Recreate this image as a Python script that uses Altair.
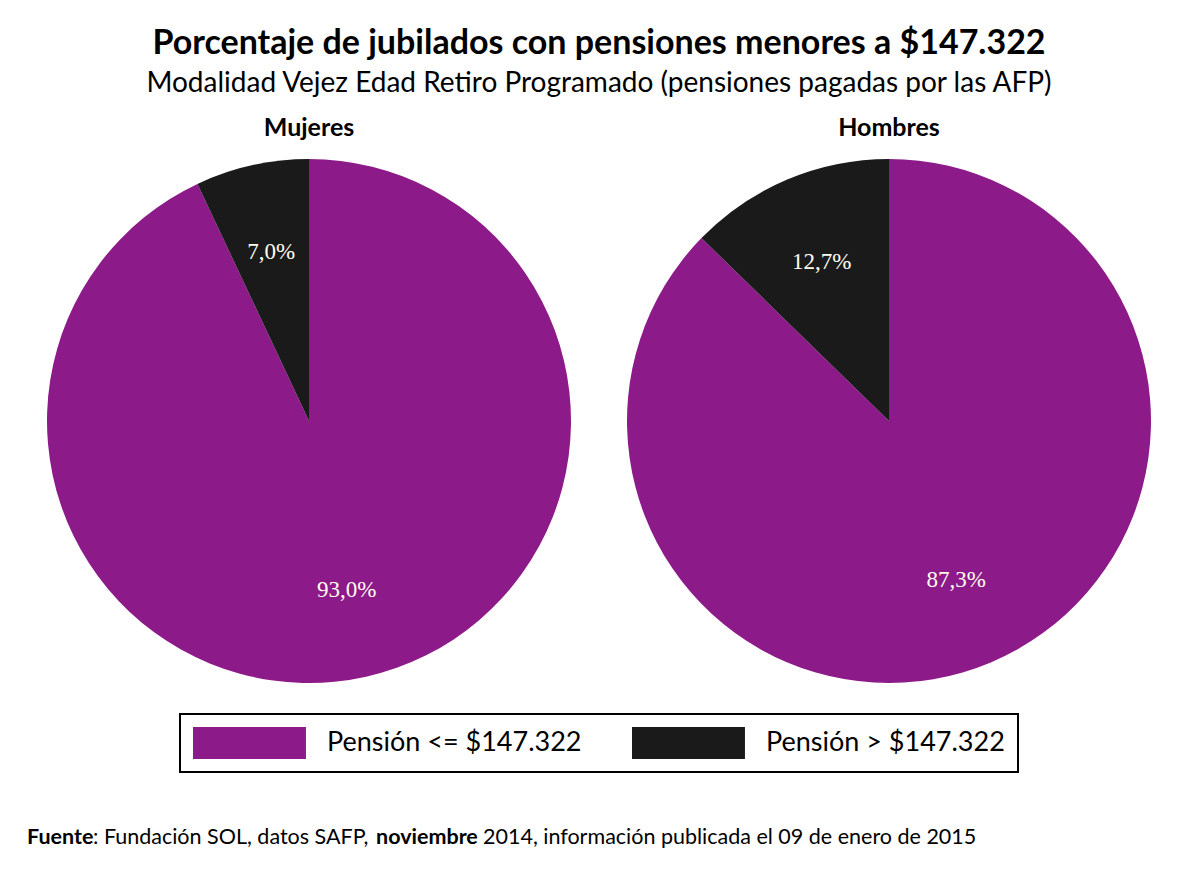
import altair as alt
import pandas as pd

# Datos
categorias = ["Pensión <= $147.322", "Pensión > $147.322"]
mujeres = [93.0, 7.0]
hombres = [87.3, 12.7]
colores = ["#8D1A89", "#1A1A1A"]

titulo = "Porcentaje de jubilados con pensiones menores a $147.322"
subtitulo = "Modalidad Vejez Edad Retiro Programado (pensiones pagadas por las AFP)"
fuente = ["Fuente", ": Fundación SOL, datos SAFP,", "noviembre", "2014, información publicada el 09 de enero de 2015"]

SANS = "Lato"
SERIF = "Liberation Serif"

# Muestra rectangular ancha: el tamaño fija la altura (32 px) y el trazado se extiende a la derecha
simbolo = "M-1,-1L6.06,-1L6.06,1L-1,1Z"

color_scale = alt.Scale(domain=categorias, range=colores)
leyenda = alt.Legend(
    orient="none", legendX=153, legendY=555, direction="horizontal",
    title=None, symbolType=simbolo, symbolSize=1024, symbolStrokeWidth=0,
    symbolOpacity=1,
    labelFont=SANS, labelFontSize=27, labelColor="black", labelOffset=102,
    labelLimit=500, columnPadding=50, padding=13, strokeColor="black",
)


def torta(nombre, valores):
    df = pd.DataFrame({
        "categoria": categorias,
        "valor": valores,
        "orden": [0, 1],
        "etiqueta": [f"{v:.1f}%".replace(".", ",") for v in valores],
    })
    base = alt.Chart(
        df,
        title=alt.TitleParams(nombre, font=SANS, fontSize=25, fontWeight="bold",
                              color="black", anchor="middle", offset=18),
    ).encode(
        theta=alt.Theta("valor:Q", stack=True),
        order=alt.Order("orden:Q"),
    )
    arcos = base.mark_arc().encode(
        color=alt.Color("categoria:N", scale=color_scale, legend=leyenda)
    )
    textos = base.mark_text(radius=173, font=SERIF, fontSize=23, color="#FFFCEE").encode(
        text="etiqueta:N", detail="categoria:N"
    )
    return alt.layer(arcos, textos).properties(width=564, height=524)


tortas = alt.hconcat(torta("Mujeres", mujeres), torta("Hombres", hombres), spacing=16)

# Pie de página con partes en negrita
pesos = ["bold", "normal", "bold", "normal"]
xs = [0, 66, 349, 456]
capas = []
for txt, peso, x in zip(fuente, pesos, xs):
    capas.append(
        alt.Chart(pd.DataFrame({"t": [txt]})).mark_text(
            align="left", baseline="alphabetic", font=SANS, fontSize=21.5,
            fontWeight=peso, color="black",
        ).encode(x=alt.value(x), y=alt.value(22), text="t:N")
    )
pie = alt.layer(*capas).properties(width=1144, height=30)

chart = alt.vconcat(tortas, pie, spacing=139).resolve_scale(color="shared").properties(
    title=alt.TitleParams(
        titulo, subtitle=subtitulo, font=SANS, fontSize=34, fontWeight="bold",
        color="black", subtitleFont=SANS, subtitleFontSize=28, subtitleColor="black",
        anchor="middle", subtitlePadding=9, offset=18,
    ),
    padding={"left": 27, "top": 27, "right": 29, "bottom": 20},
    background="white",
).configure_view(stroke=None).configure_legend(strokeWidth=2)

chart.save("out.html", embed_options={"renderer": "svg", "actions": False})
